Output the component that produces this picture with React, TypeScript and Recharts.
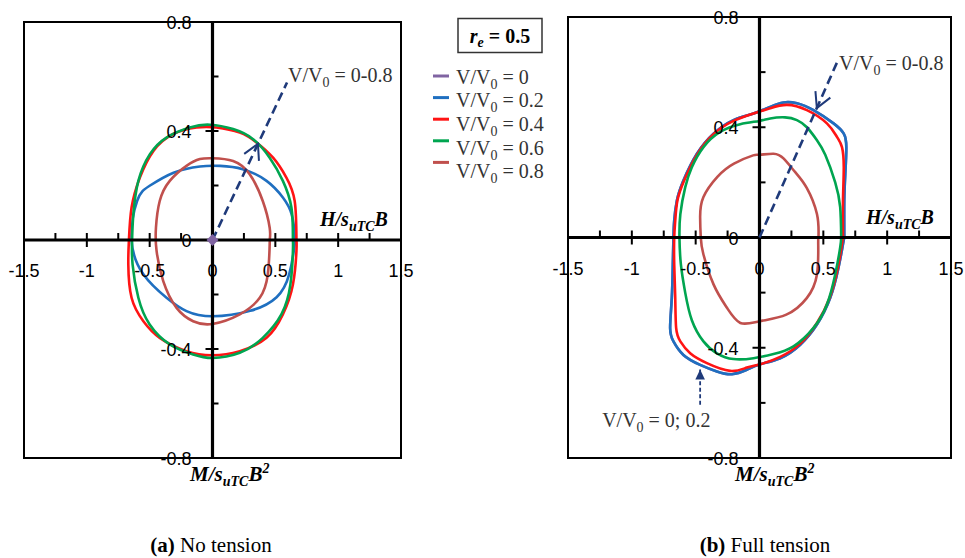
import {
  ComposedChart,
  Line,
  Scatter,
  XAxis,
  YAxis,
  ReferenceLine,
  ReferenceDot,
  ReferenceArea,
} from "recharts";

type Pt = { x: number; y: number };

// axis ticks
const X_LABELS = [-1.5, -1, -0.5, 0, 0.5, 1, 1.5];
const X_MINOR = [-1.25, -0.75, -0.25, 0.25, 0.75, 1.25];
const Y_LABELS = [-0.8, -0.4, 0, 0.4, 0.8];
const Y_MINOR = [-0.6, -0.2, 0.2, 0.6];

// legend
const V_RATIOS = ["0", "0.2", "0.4", "0.6", "0.8"];
const COLORS = ["#8064A2", "#1F6FC0", "#FF1414", "#00A550", "#C0504D"];
const NAVY = "#1F3A7A";

// (a) no tension
const NT_00: Pt[] = [{ x: 0, y: 0 }];
const NT_02: Pt[] = [
  { x: 0.654, y: 0 }, { x: 0.654, y: 0.02 }, { x: 0.63, y: 0.094 }, { x: 0.56, y: 0.156 },
  { x: 0.43, y: 0.217 }, { x: 0.24, y: 0.26 }, { x: 0.06, y: 0.272 }, { x: -0.1, y: 0.27 },
  { x: -0.31, y: 0.247 }, { x: -0.5, y: 0.199 }, { x: -0.6, y: 0.143 }, { x: -0.644, y: 0 },
  { x: -0.55, y: -0.126 }, { x: -0.366, y: -0.212 }, { x: -0.207, y: -0.261 }, { x: 0, y: -0.28 },
  { x: 0.3, y: -0.26 }, { x: 0.51, y: -0.21 }, { x: 0.61, y: -0.126 }, { x: 0.654, y: -0.016 },
  { x: 0.654, y: 0 },
];
const NT_04: Pt[] = [
  { x: 0.668, y: 0 }, { x: 0.654, y: 0.143 }, { x: 0.588, y: 0.229 }, { x: 0.482, y: 0.302 },
  { x: 0.35, y: 0.358 }, { x: 0.217, y: 0.394 }, { x: 0.03, y: 0.413 }, { x: -0.127, y: 0.413 },
  { x: -0.313, y: 0.389 }, { x: -0.47, y: 0.327 }, { x: -0.578, y: 0.229 }, { x: -0.644, y: 0.119 },
  { x: -0.665, y: 0 }, { x: -0.67, y: -0.089 }, { x: -0.644, y: -0.212 }, { x: -0.55, y: -0.298 },
  { x: -0.42, y: -0.359 }, { x: -0.207, y: -0.408 }, { x: 0, y: -0.423 }, { x: 0.217, y: -0.408 },
  { x: 0.43, y: -0.359 }, { x: 0.56, y: -0.273 }, { x: 0.64, y: -0.163 }, { x: 0.668, y: -0.04 },
  { x: 0.668, y: 0 },
];
const NT_06: Pt[] = [
  { x: 0.64, y: 0 }, { x: 0.628, y: 0.119 }, { x: 0.56, y: 0.217 }, { x: 0.455, y: 0.302 },
  { x: 0.323, y: 0.37 }, { x: 0.164, y: 0.407 }, { x: -0.02, y: 0.423 }, { x: -0.18, y: 0.413 },
  { x: -0.366, y: 0.376 }, { x: -0.498, y: 0.315 }, { x: -0.59, y: 0.217 }, { x: -0.63, y: 0.094 },
  { x: -0.64, y: 0 }, { x: -0.636, y: -0.089 }, { x: -0.59, y: -0.212 }, { x: -0.5, y: -0.31 },
  { x: -0.34, y: -0.383 }, { x: -0.154, y: -0.42 }, { x: 0, y: -0.433 }, { x: 0.217, y: -0.414 },
  { x: 0.4, y: -0.359 }, { x: 0.548, y: -0.273 }, { x: 0.62, y: -0.163 }, { x: 0.64, y: -0.04 },
  { x: 0.64, y: 0 },
];
const NT_08: Pt[] = [
  { x: 0.455, y: 0 }, { x: 0.455, y: 0.045 }, { x: 0.4, y: 0.143 }, { x: 0.296, y: 0.241 },
  { x: 0.164, y: 0.29 }, { x: 0, y: 0.3 }, { x: -0.1, y: 0.297 }, { x: -0.207, y: 0.272 },
  { x: -0.34, y: 0.217 }, { x: -0.42, y: 0.143 }, { x: -0.45, y: 0.045 }, { x: -0.445, y: -0.04 },
  { x: -0.392, y: -0.151 }, { x: -0.286, y: -0.249 }, { x: -0.154, y: -0.298 }, { x: 0, y: -0.308 },
  { x: 0.217, y: -0.273 }, { x: 0.376, y: -0.212 }, { x: 0.44, y: -0.126 }, { x: 0.455, y: -0.016 },
  { x: 0.455, y: 0 },
];

// (b) full tension
const FT_02: Pt[] = [
  { x: 0.664, y: 0 }, { x: 0.664, y: 0.134 }, { x: 0.672, y: 0.231 }, { x: 0.68, y: 0.328 },
  { x: 0.66, y: 0.377 }, { x: 0.58, y: 0.414 }, { x: 0.423, y: 0.462 }, { x: 0.293, y: 0.487 },
  { x: 0.188, y: 0.49 }, { x: 0.084, y: 0.474 }, { x: -0.047, y: 0.45 }, { x: -0.204, y: 0.426 },
  { x: -0.36, y: 0.377 }, { x: -0.49, y: 0.304 }, { x: -0.596, y: 0.207 }, { x: -0.647, y: 0.134 },
  { x: -0.668, y: 0.061 }, { x: -0.674, y: 0 }, { x: -0.679, y: -0.097 }, { x: -0.687, y: -0.219 },
  { x: -0.7, y: -0.328 }, { x: -0.674, y: -0.377 }, { x: -0.596, y: -0.426 }, { x: -0.465, y: -0.462 },
  { x: -0.334, y: -0.486 }, { x: -0.216, y: -0.496 }, { x: -0.099, y: -0.48 }, { x: 0.005, y: -0.46 },
  { x: 0.162, y: -0.438 }, { x: 0.319, y: -0.389 }, { x: 0.45, y: -0.316 }, { x: 0.554, y: -0.219 },
  { x: 0.619, y: -0.109 }, { x: 0.654, y: -0.024 }, { x: 0.664, y: 0 },
];
const FT_00: Pt[] = FT_02;
const FT_04: Pt[] = [
  { x: 0.654, y: 0 }, { x: 0.654, y: 0.134 }, { x: 0.66, y: 0.255 }, { x: 0.646, y: 0.328 },
  { x: 0.607, y: 0.365 }, { x: 0.528, y: 0.414 }, { x: 0.371, y: 0.462 }, { x: 0.215, y: 0.481 },
  { x: 0.084, y: 0.469 }, { x: -0.047, y: 0.45 }, { x: -0.204, y: 0.423 }, { x: -0.36, y: 0.375 },
  { x: -0.49, y: 0.3 }, { x: -0.59, y: 0.207 }, { x: -0.643, y: 0.134 }, { x: -0.66, y: 0.061 },
  { x: -0.668, y: 0 }, { x: -0.668, y: -0.097 }, { x: -0.66, y: -0.219 }, { x: -0.653, y: -0.328 },
  { x: -0.62, y: -0.377 }, { x: -0.543, y: -0.42 }, { x: -0.412, y: -0.456 }, { x: -0.23, y: -0.484 },
  { x: -0.099, y: -0.472 }, { x: 0.005, y: -0.46 }, { x: 0.162, y: -0.433 }, { x: 0.319, y: -0.385 },
  { x: 0.45, y: -0.31 }, { x: 0.549, y: -0.219 }, { x: 0.614, y: -0.109 }, { x: 0.646, y: -0.024 },
  { x: 0.654, y: 0 },
];
const FT_06: Pt[] = [
  { x: 0.64, y: 0 }, { x: 0.632, y: 0.11 }, { x: 0.593, y: 0.2 }, { x: 0.515, y: 0.3 },
  { x: 0.45, y: 0.353 }, { x: 0.371, y: 0.4 }, { x: 0.293, y: 0.426 }, { x: 0.2, y: 0.436 },
  { x: 0.084, y: 0.432 }, { x: 0, y: 0.423 }, { x: -0.151, y: 0.411 }, { x: -0.308, y: 0.383 },
  { x: -0.439, y: 0.328 }, { x: -0.53, y: 0.255 }, { x: -0.582, y: 0.182 }, { x: -0.62, y: 0.085 },
  { x: -0.627, y: 0 }, { x: -0.616, y: -0.097 }, { x: -0.582, y: -0.2 }, { x: -0.53, y: -0.3 },
  { x: -0.439, y: -0.377 }, { x: -0.334, y: -0.42 }, { x: -0.204, y: -0.441 }, { x: -0.047, y: -0.438 },
  { x: 0.11, y: -0.423 }, { x: 0.266, y: -0.395 }, { x: 0.423, y: -0.328 }, { x: 0.528, y: -0.243 },
  { x: 0.593, y: -0.134 }, { x: 0.632, y: -0.036 }, { x: 0.64, y: 0 },
];
const FT_08: Pt[] = [
  { x: 0.462, y: 0 }, { x: 0.45, y: 0.085 }, { x: 0.37, y: 0.18 }, { x: 0.28, y: 0.237 },
  { x: 0.19, y: 0.286 }, { x: 0.11, y: 0.304 }, { x: 0, y: 0.3 }, { x: -0.05, y: 0.298 },
  { x: -0.2, y: 0.268 }, { x: -0.33, y: 0.22 }, { x: -0.44, y: 0.146 }, { x: -0.465, y: 0.073 },
  { x: -0.46, y: 0 }, { x: -0.44, y: -0.06 }, { x: -0.36, y: -0.17 }, { x: -0.255, y: -0.255 },
  { x: -0.15, y: -0.31 }, { x: 0, y: -0.304 }, { x: 0.21, y: -0.28 }, { x: 0.37, y: -0.22 },
  { x: 0.45, y: -0.134 }, { x: 0.46, y: -0.024 }, { x: 0.462, y: 0 },
];

const SANS = "'Liberation Sans', Arial, sans-serif";
const SERIF = "'Liberation Serif', 'Times New Roman', serif";

type Arrow = {
  from: Pt;
  to: Pt;
  head: number; // position of the head along the segment, 0..1
  dir: 1 | -1; // 1 = points toward `to`, -1 = toward `from`
  filled?: boolean;
  text: [string, string, string];
  dx: number;
  dy: number;
};

const VLabel = ({ x, y, parts }: { x: number; y: number; parts: string[] }) => (
  <text x={x} y={y} fontFamily={SERIF} fontSize={20} fill="#333">
    <tspan>{parts[0]}</tspan>
    <tspan fontSize={14} dy={5}>{parts[1]}</tspan>
    <tspan dy={-5}>{parts[2]}</tspan>
  </text>
);

const arrowShape = (a: Arrow) => (p: any) => {
  const { x1, y1, x2, y2 } = p;
  const dx = x2 - x1;
  const dy = y2 - y1;
  const len = Math.hypot(dx, dy) || 1;
  const ux = dx / len;
  const uy = dy / len;
  const ax = x1 + dx * a.head;
  const ay = y1 + dy * a.head;
  const bx = -ux * a.dir;
  const by = -uy * a.dir;
  const arm = (ang: number, l: number) => [
    ax + l * (bx * Math.cos(ang) - by * Math.sin(ang)),
    ay + l * (bx * Math.sin(ang) + by * Math.cos(ang)),
  ];
  let head;
  if (a.filled) {
    const [p1x, p1y] = arm(0.45, 11);
    const [p2x, p2y] = arm(-0.45, 11);
    head = <polygon points={`${ax},${ay} ${p1x},${p1y} ${p2x},${p2y}`} fill={NAVY} />;
  } else {
    const [p1x, p1y] = arm(0.5, 17);
    const [p2x, p2y] = arm(-0.5, 17);
    head = (
      <polyline points={`${p1x},${p1y} ${ax},${ay} ${p2x},${p2y}`} fill="none" stroke={NAVY} strokeWidth={2} />
    );
  }
  // open arrows carry their label at the far end, the filled one below its tail
  const lx = a.filled ? x1 : x2;
  const ly = a.filled ? y1 : y2;
  return (
    <g>
      <line
        x1={x1}
        y1={y1}
        x2={x2}
        y2={y2}
        stroke={NAVY}
        strokeWidth={a.filled ? 1.8 : 2.6}
        strokeDasharray={a.filled ? "4 2.5" : "9 5"}
      />
      {head}
      <VLabel x={lx + a.dx} y={ly + a.dy} parts={a.text} />
    </g>
  );
};

const xTick = (v: number, withLabel: boolean) => (p: any) => {
  const edge = Math.abs(v) === 1.5 || v === 0;
  const major = Math.abs(v * 2 - Math.round(v * 2)) < 1e-9;
  return (
    <g>
      {!edge && (
        <line x1={p.cx} x2={p.cx} y1={p.cy - 7} y2={major ? p.cy + 7 : p.cy} stroke="#000" strokeWidth={2} />
      )}
      {withLabel && (
        <text x={p.cx} y={p.cy + 37} textAnchor="middle" fontFamily={SANS} fontSize={18} fill="#000">
          {v}
        </text>
      )}
    </g>
  );
};

const yTick = (v: number, withLabel: boolean) => (p: any) => {
  const edge = Math.abs(v) === 0.8 || v === 0;
  return (
    <g>
      {!edge && (
        <line x1={withLabel ? p.cx - 7 : p.cx} x2={p.cx + 6} y1={p.cy} y2={p.cy} stroke="#000" strokeWidth={2} />
      )}
      {withLabel && (
        <text x={p.cx - 21} y={p.cy + 7} textAnchor="end" fontFamily={SANS} fontSize={18} fill="#000">
          {v}
        </text>
      )}
    </g>
  );
};

const diamond = (p: any) => (
  <polygon
    points={`${p.cx},${p.cy - 6} ${p.cx + 6},${p.cy} ${p.cx},${p.cy + 6} ${p.cx - 6},${p.cy}`}
    fill={COLORS[0]}
  />
);

type PanelProps = {
  left: number;
  width: number;
  margin: { top: number; right: number; bottom: number; left: number };
  curves: (Pt[] | null)[];
  point?: Pt[];
  arrows: Arrow[];
};

const Panel = ({ left, width, margin, curves, point, arrows }: PanelProps) => (
  <div style={{ position: "absolute", left, top: 0 }}>
    <ComposedChart width={width} height={480} margin={margin}>
      <XAxis type="number" dataKey="x" domain={[-1.5, 1.5]} hide allowDataOverflow />
      <YAxis type="number" dataKey="y" domain={[-0.8, 0.8]} hide allowDataOverflow />
      {curves.map((c, i) =>
        c ? (
          <Line
            key={i}
            data={c}
            dataKey="y"
            type="natural"
            stroke={COLORS[i]}
            strokeWidth={2.6}
            dot={false}
            activeDot={false}
            isAnimationActive={false}
          />
        ) : null
      )}
      {point && <Scatter data={point} shape={diamond} isAnimationActive={false} />}
      <ReferenceArea x1={-1.5} x2={1.5} y1={-0.8} y2={0.8} fill="none" stroke="#000" strokeWidth={2} />
      <ReferenceLine x={0} stroke="#000" strokeWidth={3.2} />
      <ReferenceLine y={0} stroke="#000" strokeWidth={3.2} />
      {X_MINOR.map((v) => (
        <ReferenceDot key={`xm${v}`} x={v} y={0} shape={xTick(v, false)} />
      ))}
      {X_LABELS.map((v) => (
        <ReferenceDot key={`xl${v}`} x={v} y={0} shape={xTick(v, true)} />
      ))}
      {Y_MINOR.map((v) => (
        <ReferenceDot key={`ym${v}`} x={0} y={v} shape={yTick(v, false)} />
      ))}
      {Y_LABELS.map((v) => (
        <ReferenceDot key={`yl${v}`} x={0} y={v} shape={yTick(v, true)} />
      ))}
      {arrows.map((a, i) => (
        <ReferenceLine key={`ar${i}`} segment={[a.from, a.to]} shape={arrowShape(a)} />
      ))}
    </ComposedChart>
  </div>
);

const ARROWS_A: Arrow[] = [
  {
    from: { x: 0, y: 0 },
    to: { x: 0.593, y: 0.578 },
    head: 0.61,
    dir: 1,
    text: ["V/V", "0", " = 0-0.8"],
    dx: 1,
    dy: 0,
  },
];

const ARROWS_B: Arrow[] = [
  {
    from: { x: 0, y: 0 },
    to: { x: 0.607, y: 0.635 },
    head: 0.74,
    dir: -1,
    text: ["V/V", "0", " = 0-0.8"],
    dx: 2,
    dy: 8,
  },
  {
    from: { x: -0.465, y: -0.607 },
    to: { x: -0.465, y: -0.479 },
    head: 1,
    dir: 1,
    filled: true,
    text: ["V/V", "0", " = 0; 0.2"],
    dx: -98,
    dy: 22,
  },
];

const AxisTitle = ({ x, y, kind }: { x: number; y: number; kind: "H" | "M" }) => (
  <text x={x} y={y} fontFamily={SERIF} fontSize={kind === "H" ? 20 : 21} fontWeight="bold" fontStyle="italic" fill="#000">
    <tspan>{kind}/s</tspan>
    <tspan fontSize={14} dy={5}>uTC</tspan>
    <tspan dy={-5}>B</tspan>
    {kind === "M" && (
      <tspan fontSize={14} dy={-8}>
        2
      </tspan>
    )}
  </text>
);

export default function App() {
  return (
    <div style={{ position: "absolute", left: 0, top: 0, width: 965, height: 558, background: "#fff" }}>
      <Panel
        left={0}
        width={420}
        margin={{ top: 22, right: 19, bottom: 22, left: 24 }}
        curves={[null, NT_02, NT_04, NT_06, NT_08]}
        point={NT_00}
        arrows={ARROWS_A}
      />
      <Panel
        left={540}
        width={425}
        margin={{ top: 17, right: 14, bottom: 22, left: 28 }}
        curves={[FT_00, FT_02, FT_04, FT_06, FT_08]}
        arrows={ARROWS_B}
      />
      <svg width={965} height={558} style={{ position: "absolute", left: 0, top: 0, pointerEvents: "none" }}>
        <rect x={458} y={18.5} width={84} height={34} fill="#fff" stroke="#333" strokeWidth={1.5} />
        <text x={500} y={43} textAnchor="middle" fontFamily={SERIF} fontSize={20} fontWeight="bold" fill="#000">
          <tspan fontStyle="italic">r</tspan>
          <tspan fontStyle="italic" fontSize={14} dy={4}>e</tspan>
          <tspan dy={-4}> = 0.5</tspan>
        </text>
        {V_RATIOS.map((r, i) => (
          <g key={r}>
            <line x1={433} x2={449} y1={76 + i * 21.6} y2={76 + i * 21.6} stroke={COLORS[i]} strokeWidth={3} />
            <VLabel x={456} y={83.5 + i * 23.7} parts={["V/V", "0", ` = ${r}`]} />
          </g>
        ))}
        <AxisTitle x={320} y={226} kind="H" />
        <AxisTitle x={866} y={224} kind="H" />
        <AxisTitle x={190} y={481} kind="M" />
        <AxisTitle x={735} y={481} kind="M" />
        <text x={211} y={552} textAnchor="middle" fontFamily={SERIF} fontSize={21} fill="#000">
          <tspan fontWeight="bold">(a)</tspan> No tension
        </text>
        <text x={765} y={552} textAnchor="middle" fontFamily={SERIF} fontSize={21} fill="#000">
          <tspan fontWeight="bold">(b)</tspan> Full tension
        </text>
      </svg>
    </div>
  );
}
